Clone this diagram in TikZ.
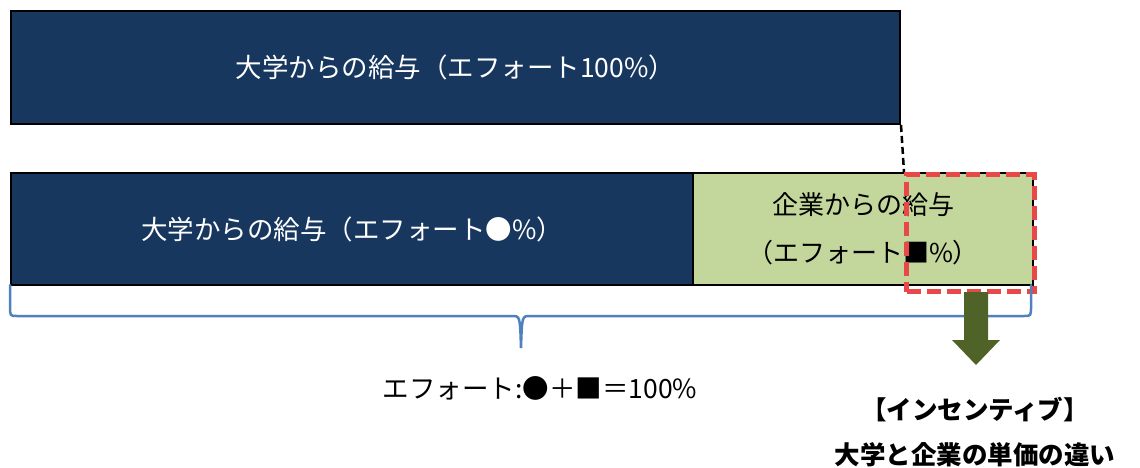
\documentclass[tikz,border=0pt]{standalone}
\usepackage{fontspec}
\newfontfamily\jp{Noto Sans CJK JP}
\usetikzlibrary{calc}
\definecolor{navy}{HTML}{17375E}
\definecolor{lgreen}{HTML}{C3D69B}
\definecolor{olive}{HTML}{4F6228}
\definecolor{braceblue}{HTML}{4F81BD}
\definecolor{dashred}{HTML}{E84848}
\tikzset{
  bar/.style={draw=black, line width=2pt, anchor=north west, inner sep=0pt,
    font=\jp\fontsize{26.5}{30}\selectfont, align=center},
  navybar/.style={bar, fill=navy, text=white},
  greenbar/.style={bar, fill=lgreen, text=black, font=\jp\fontsize{26}{48}\selectfont},
  redbox/.style={draw=dashred, line width=5pt, dash pattern=on 14pt off 6pt, anchor=north west, inner sep=0pt},
  lbl/.style={font=\jp\fontsize{26.5}{30}\selectfont, inner sep=0pt},
  boldlbl/.style={font=\jp\bfseries\fontsize{25.5}{30}\selectfont, inner sep=0pt}
}
\begin{document}
\begin{tikzpicture}[x=1pt, y=-1pt]
\useasboundingbox (0,0) rectangle (1140,468);
\node[navybar, minimum width=889pt, minimum height=113pt] (top) at (10,10) {大学からの給与（エフォート100\%）};
\node[navybar, minimum width=682pt, minimum height=112pt] (univ) at (10,172) {大学からの給与（エフォート●\%）};
\node[greenbar, minimum width=340pt, minimum height=112pt] (corp) at (692,172) {企業からの給与\\（エフォート■\%）};
\node[redbox, minimum width=128pt, minimum height=117pt] (diff) at (904,172) {};
\draw[black, line width=2.5pt, dash pattern=on 7pt off 4pt] (top.south east) -- (diff.north west);
% brace
\coordinate (bl) at (10,285);
\coordinate (br) at (1031,285);
\coordinate (tip) at (521,348);
\draw[braceblue, line width=2.5pt, line cap=round]
  (bl) -- (10,306) .. controls (10,316) .. (17,316) -- (512,316)
  .. controls (520,316) .. (tip)
  .. controls (522,316) .. (530,316) -- (1024,316)
  .. controls (1031,316) .. (1031,306) -- (br);
% block arrow
\coordinate (atail) at (976,292);
\fill[olive] ($(atail)+(-12,0)$) -- ($(atail)+(12,0)$) -- ($(atail)+(12,48)$) -- ($(atail)+(24,48)$)
  -- ($(atail)+(0,73)$) -- ($(atail)+(-24,48)$) -- ($(atail)+(-12,48)$) -- cycle;
\node[lbl] (eq) at (540,388) {エフォート:●＋■＝100\%};
\node[boldlbl] (inc1) at (975,410) {【インセンティブ】};
\node[boldlbl] (inc2) at (975,455) {大学と企業の単価の違い};
\end{tikzpicture}
\end{document}
